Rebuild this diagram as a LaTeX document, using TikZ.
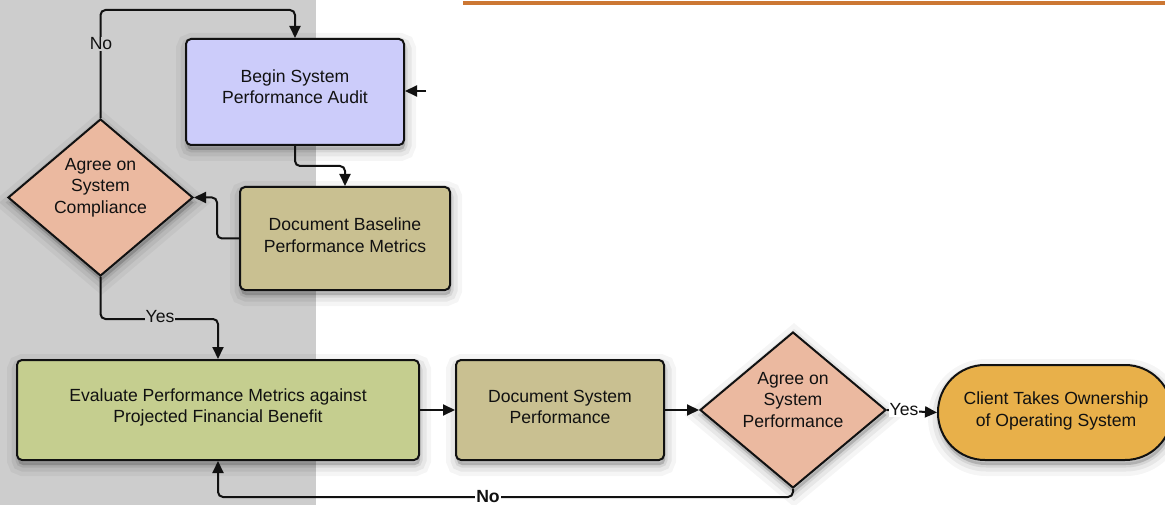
\documentclass[tikz,border=0pt]{standalone}
\usepackage{fontspec}
\setmainfont{Liberation Sans}
\usetikzlibrary{shapes.geometric,arrows.meta}
\definecolor{bggray}{HTML}{CDCDCD}
\definecolor{lav}{HTML}{CCCCFA}
\definecolor{khaki}{HTML}{C9C091}
\definecolor{evgreen}{HTML}{C5CE8F}
\definecolor{salmon}{HTML}{EBB9A0}
\definecolor{gold}{HTML}{E8B04A}
\definecolor{orng}{HTML}{CC7733}
\definecolor{ink}{HTML}{111111}
\begin{document}
\begin{tikzpicture}[x=1pt,y=-1pt,
  font=\fontsize{17.6}{21.5}\selectfont,
  shad/.style={
    preaction={draw=black,line width=22pt,draw opacity=0.04,fill=black,fill opacity=0.04,transform canvas={shift={(1pt,-5pt)}}},
    preaction={draw=black,line width=13pt,draw opacity=0.06,fill=black,fill opacity=0.06,transform canvas={shift={(1pt,-5pt)}}},
    preaction={draw=black,line width=5pt,draw opacity=0.08,fill=black,fill opacity=0.08,transform canvas={shift={(1pt,-5pt)}}}},
  box/.style={draw=ink,line width=2pt,rounded corners=5pt,align=center,inner sep=0pt,shad},
  dia/.style={diamond,draw=ink,line width=2pt,fill=salmon,inner sep=0pt,shad},
  txt/.style={align=center,inner sep=0pt,text=ink},
  conn/.style={draw=ink,line width=2pt,rounded corners=5pt,-{Triangle[length=12pt,width=11pt]}},
  lbl/.style={inner sep=1pt,text=ink}]
\useasboundingbox (0,0) rectangle (1165,505);
\fill[bggray] (0,0) rectangle (316,505);
\draw[orng,line width=4pt] (463,3) -- (1165,3);

\node[box,fill=lav,minimum width=218pt,minimum height=106pt] (begin) at (295,92) {};
\node[txt] (begint) at (295,86.5) {Begin System\\Performance Audit};
\node[box,fill=khaki,minimum width=210pt,minimum height=103pt] (base) at (345,238.5) {};
\node[txt] (baset) at (345,235) {Document Baseline\\Performance Metrics};
\node[dia,minimum width=185pt,minimum height=157pt] (d1) at (100.5,197.5) {};
\node[txt] (d1t) at (100.5,187.5) {Agree on\\System\\Compliance};
\node[box,fill=evgreen,minimum width=402pt,minimum height=100pt] (eval) at (218,410) {};
\node[txt] (evalt) at (218,407.5) {Evaluate Performance Metrics against\\Projected Financial Benefit};
\node[box,fill=khaki,minimum width=208pt,minimum height=100pt] (docs) at (560,410) {};
\node[txt] (docst) at (560,407) {Document System\\Performance};
\node[dia,minimum width=186pt,minimum height=156pt] (d2) at (793,410) {};
\node[txt] (d2t) at (793,400) {Agree on\\System\\Performance};
\node[box,fill=gold,rounded corners=47pt,minimum width=234pt,minimum height=95pt] (client) at (1055,412.5) {};
\node[txt] (clientt) at (1056,411) {Client Takes Ownership\\of Operating System};

\coordinate (ent) at (426,91);
\draw[conn] (ent) -- (begin.east |- ent);
\draw[conn] (d1.north) -- (d1.north |- 0,10) -- (begin.north |- 0,10) -- (begin.north);
\node[lbl,fill=bggray] (no1) at (101,44) {No};
\draw[conn] (begin.south) -- (begin.south |- 0,166) -- (base.north |- 0,166) -- (base.north);
\draw[conn] (base.west) -- ++(-22,0) |- (d1.east);
\draw[conn] (d1.south) -- (d1.south |- 0,319) -- (eval.north |- 0,319) -- (eval.north);
\node[lbl,fill=bggray] (yes1) at (160,317) {Yes};
\draw[conn] (eval.east) -- (docs.west);
\draw[conn] (docs.east) -- (d2.west);
\draw[conn] (d2.east) -- (client.west);
\node[lbl,fill=white,inner sep=0.5pt] (yes2) at (904,410) {Yes};
\draw[conn] (d2.south) -- (d2.south |- 0,497) -- (eval.south |- 0,497) -- (eval.south);
\node[lbl,fill=white,font=\fontsize{17.6}{21.5}\selectfont\bfseries] (no2) at (488,497) {No};
\end{tikzpicture}
\end{document}
